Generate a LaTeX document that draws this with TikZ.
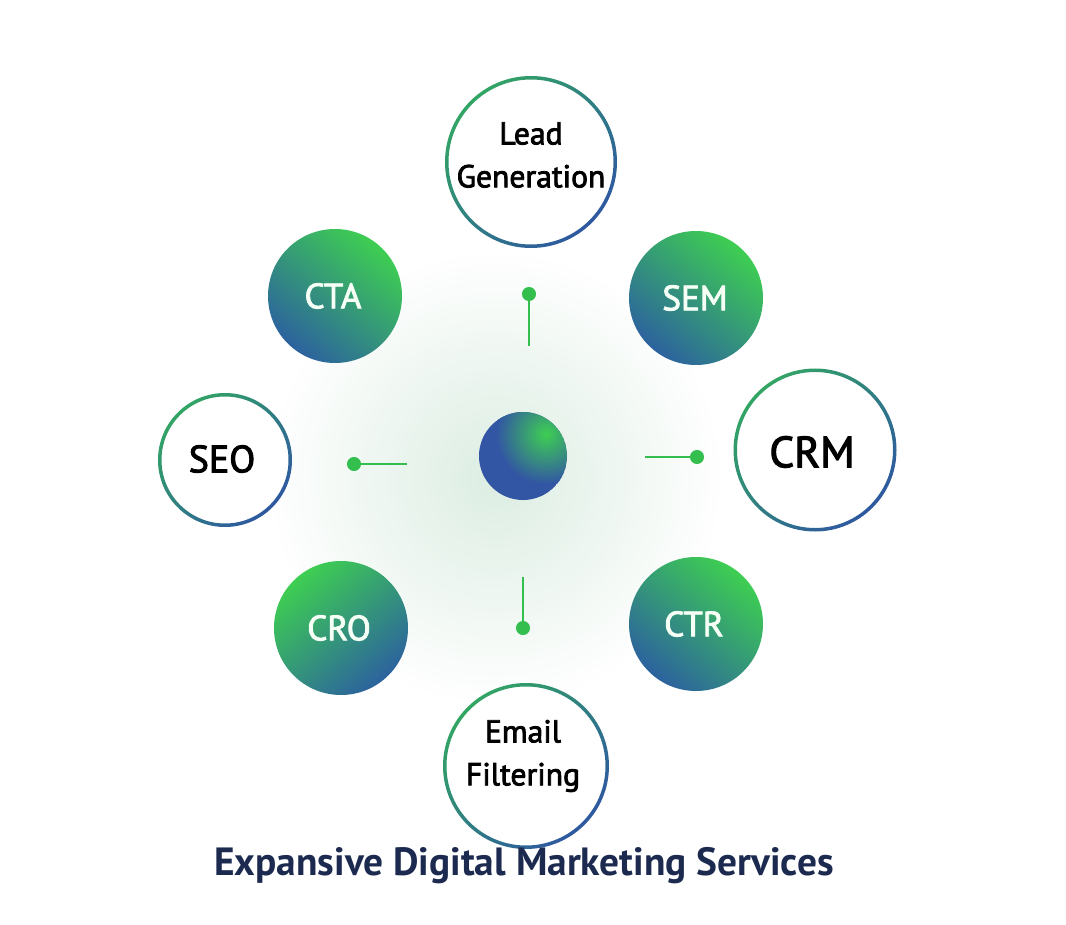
\documentclass[tikz,border=0pt]{standalone}
\usepackage{fontspec}
\setmainfont{PT Sans}
\newfontface\medfont{PT Sans}[FakeBold=2.5]
\definecolor{ringgreen}{RGB}{50,165,100}
\definecolor{ringblue}{RGB}{46,88,160}
\definecolor{ballgreen}{RGB}{62,206,82}
\definecolor{ballmid}{RGB}{44,170,94}
\definecolor{balllow}{RGB}{44,98,158}
\definecolor{ballblue}{RGB}{50,86,164}
\definecolor{linkgreen}{RGB}{52,190,78}
\definecolor{glowgreen}{RGB}{220,237,226}
\definecolor{titlenavy}{RGB}{28,42,80}
% gradient ring and gradient disc, (centre)(radius)
\def\ringcircle(#1)(#2){\fill[white] (#1) circle (#2); \shade[ring] (#1) circle (#2) circle (#2-3.5);}
\def\ballcircle[#1](#2)(#3){\shade[ball,#1] (#2) circle (#3);}

\begin{document}
\begin{tikzpicture}[x=0.025cm,y=-0.025cm,
	ring/.style={top color=ringgreen, bottom color=ringblue, shading angle=45, even odd rule},
	ball/.style={top color=ballgreen, middle color=ballmid, bottom color=balllow, shading angle=-40},
	word/.style={font=\medfont\fontsize{22.5}{30.5}\selectfont, align=center, text=black},
	bigword/.style={font=\medfont\fontsize{#1}{#1}\selectfont, text=black},
	whiteword/.style={font=\medfont\fontsize{25}{25}\selectfont, text=white!96!green},
	dot/.style={circle, fill=linkgreen, inner sep=0pt, minimum size=10pt},
	link/.style={linkgreen, line width=2.1pt}]
	%%%%% START %%%%%
	\useasboundingbox (0,0) rectangle (1066,925);
	\def\rsm{67}
	
	% soft glow behind the hub
	\shade[inner color=glowgreen, outer color=white] (495,478) circle (230);
	
	% outlined circles
	\ringcircle(531,162)(86)
	\ringcircle(225,460)(67)
	\ringcircle(815,450)(81.5)
	\ringcircle(526,766)(83)
	
	% filled circles
	\ballcircle[](335,296)(\rsm)
	\ballcircle[](696,298)(\rsm)
	\ballcircle[shading angle=40](341,628)(\rsm)
	\ballcircle[](696,624)(\rsm)
	
	\node[word] (lead) at (531,155) {Lead\\Generation};
	\node[bigword=27] (seo) at (222,459) {SEO};
	\node[bigword=31] (crm) at (812,452) {CRM};
	\node[word] (email) at (523,756) {Email\\Filtering};
	\node[whiteword] (cta) at (333,296) {CTA};
	\node[whiteword] (sem) at (695,298) {SEM};
	\node[whiteword] (cro) at (339,628) {CRO};
	\node[whiteword] (ctr) at (694,624) {CTR};
	
	% hub
	\begin{scope}
		\clip (523,456) circle (44);
		\fill[ballblue] (523,456) circle (44);
		\shade[inner color=ballgreen, outer color=ballblue] (546,434) circle (50);
	\end{scope}
	\node[circle, inner sep=0pt, minimum size=62.6pt] (hub) at (523,456) {};
	
	% pins
	\node[dot] (dtop) at (529,294) {};
	\coordinate (etop) at (529,346);
	\draw[link] (dtop) -- (etop);
	
	\node[dot] (dright) at (697,457) {};
	\coordinate (eright) at (645,457);
	\draw[link] (eright) -- (dright);
	
	\node[dot] (dleft) at (354,464) {};
	\coordinate (eleft) at (407,464);
	\draw[link] (dleft) -- (eleft);
	
	\node[dot] (dbottom) at (523,628) {};
	\coordinate (ebottom) at (523,577);
	\draw[link] (ebottom) -- (dbottom);
	
	\node[font=\bfseries\fontsize{28}{28}\selectfont, text=titlenavy] (title) at (524,866) {Expansive Digital Marketing Services};
	%%%%% END %%%%%
\end{tikzpicture}
\end{document}
